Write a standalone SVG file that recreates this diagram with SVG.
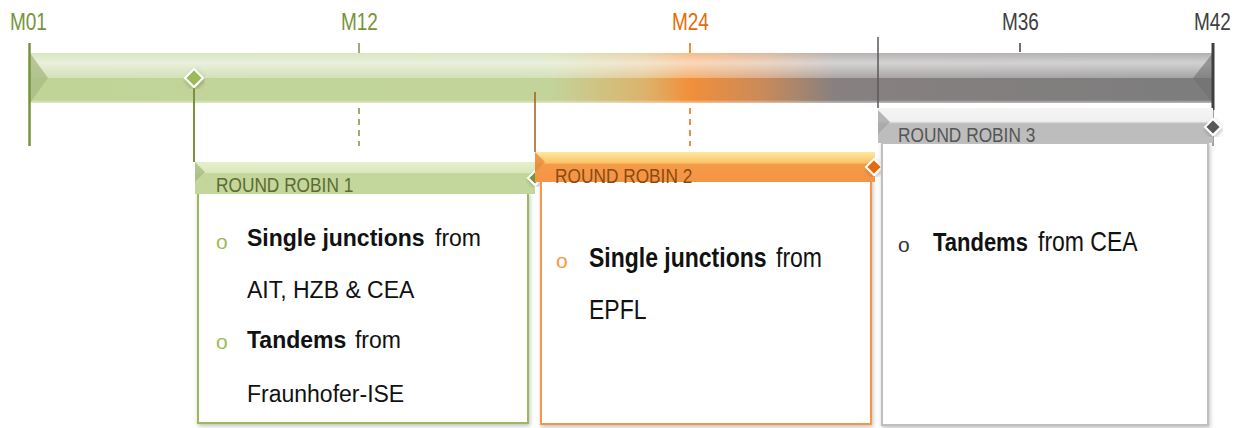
<svg xmlns="http://www.w3.org/2000/svg" width="1249" height="428" viewBox="0 0 1249 428">
<style>
text{font-family:"Liberation Sans",Arial,sans-serif}
.ms{font-size:19px}
.rr{font-size:17.3px}
.tx{fill:#111;font-size:23px}
.b{font-weight:bold}
.bul{font-size:21px}
.dia{stroke:#fff;stroke-width:2}
</style>
<defs>
<linearGradient id="mainH" gradientUnits="userSpaceOnUse" x1="30" y1="0" x2="1213" y2="0">
<stop offset="0" stop-color="#c0d498"/>
<stop offset="0.44" stop-color="#c2d49a"/>
<stop offset="0.52" stop-color="#dcb36c"/>
<stop offset="0.558" stop-color="#f28f3a"/>
<stop offset="0.62" stop-color="#c98a5a"/>
<stop offset="0.68" stop-color="#878080"/>
<stop offset="1" stop-color="#7d7d7d"/>
</linearGradient>
<linearGradient id="shine" x1="0" y1="0" x2="0" y2="1">
<stop offset="0" stop-color="#fff" stop-opacity="0.4"/>
<stop offset="0.2" stop-color="#fff" stop-opacity="0.65"/>
<stop offset="0.5" stop-color="#fff" stop-opacity="0.3"/>
<stop offset="0.5" stop-color="#fff" stop-opacity="0"/>
<stop offset="0.94" stop-color="#fff" stop-opacity="0"/>
<stop offset="1" stop-color="#fff" stop-opacity="0.5"/>
</linearGradient>
<linearGradient id="g1" x1="0" y1="0" x2="0" y2="1">
<stop offset="0" stop-color="#e6f0cf"/>
<stop offset="0.35" stop-color="#d9e7b9"/>
<stop offset="0.36" stop-color="#c3d69b"/>
<stop offset="1" stop-color="#c3d69b"/>
</linearGradient>
<linearGradient id="g2" x1="0" y1="0" x2="0" y2="1">
<stop offset="0" stop-color="#fee9a0"/>
<stop offset="0.35" stop-color="#fbc46a"/>
<stop offset="0.42" stop-color="#f59a48"/>
<stop offset="1" stop-color="#f39443"/>
</linearGradient>
<linearGradient id="g3" x1="0" y1="0" x2="0" y2="1">
<stop offset="0" stop-color="#f4f4f4"/>
<stop offset="0.38" stop-color="#f0f0f0"/>
<stop offset="0.45" stop-color="#bdbdbd"/>
<stop offset="1" stop-color="#bdbdbd"/>
</linearGradient>
<filter id="sh" x="-10%" y="-10%" width="120%" height="120%">
<feDropShadow dx="1" dy="2" stdDeviation="2" flood-color="#000" flood-opacity="0.25"/>
</filter>
</defs>

<g id="timeline">
<rect x="30" y="53" width="1183" height="50" fill="url(#mainH)"/>
<rect x="30" y="53" width="1183" height="50" fill="url(#shine)"/>
<polygon points="30,53 48,78 30,103" fill="#a9bb85" opacity="0.8"/>
<polygon points="1213,53 1193,78 1213,103" fill="#6f6f6f" opacity="0.6"/>
<line x1="29.5" y1="43" x2="29.5" y2="146" stroke="#77933c" stroke-width="2.5"/>
<line x1="1213" y1="43" x2="1213" y2="110" stroke="#3f3f3f" stroke-width="3"/>
<line x1="1213" y1="110" x2="1213" y2="146" stroke="#3f3f3f" stroke-width="1"/>
<text class="ms" x="10" y="0" transform="translate(0,30) scale(1,1.3)" fill="#77933c">M01</text>
<text class="ms" x="341" y="0" transform="translate(0,30) scale(1,1.3)" fill="#77933c">M12</text>
<text class="ms" x="672" y="0" transform="translate(0,30) scale(1,1.3)" fill="#e36c09">M24</text>
<text class="ms" x="1002" y="0" transform="translate(0,30) scale(1,1.3)" fill="#404040">M36</text>
<text class="ms" x="1194" y="0" transform="translate(0,30) scale(1,1.3)" fill="#404040">M42</text>
<line x1="359" y1="43" x2="359" y2="53" stroke="#77933c" stroke-width="1.5"/>
<line x1="359" y1="108" x2="359" y2="146" stroke="#77933c" stroke-width="1.5" stroke-dasharray="6,5"/>
<line x1="690" y1="43" x2="690" y2="53" stroke="#e36c09" stroke-width="1.5"/>
<line x1="690" y1="108" x2="690" y2="146" stroke="#e36c09" stroke-width="1.5" stroke-dasharray="6,5"/>
<line x1="1020" y1="43" x2="1020" y2="52" stroke="#404040" stroke-width="1.5"/>
</g>

<g id="connectors">
<line x1="194" y1="78" x2="194" y2="162" stroke="#77933c" stroke-width="2"/>
<line x1="535" y1="92" x2="535" y2="152" stroke="#a85a1c" stroke-width="1.5"/>
<line x1="878" y1="37" x2="878" y2="108" stroke="#595959" stroke-width="1.5"/>
</g>

<g id="milestone-start">
<polygon class="dia" points="194,69 203,78 194,87 185,78" fill="#9bbb59" filter="url(#sh)"/>
</g>

<g id="round-robin-1">
<rect x="198" y="193" width="330" height="230" fill="#fff" stroke="#9bbb59" stroke-width="2" filter="url(#sh)"/>
<rect x="195" y="162" width="340" height="32" fill="url(#g1)"/>
<polygon points="195,162 205,172 195,182" fill="#a9bb85" opacity="0.8"/>
<text class="rr" x="216" y="0" transform="translate(0,192) scale(1,1.13)" fill="#5d6b32">ROUND ROBIN 1</text>
<polygon class="dia" points="535,171 542,178 535,185 528,178" fill="#77933c" filter="url(#sh)"/>
<text class="bul" x="216" y="249" fill="#9bbb59">o</text>
<text class="tx b" x="247" y="0" transform="translate(0,246) scale(1,1.05)">Single junctions</text>
<text class="tx" x="435" y="0" transform="translate(0,246) scale(1,1.05)">from</text>
<text class="tx" x="247" y="0" transform="translate(0,298) scale(1,1.05)">AIT, HZB &amp; CEA</text>
<text class="bul" x="216" y="349" fill="#9bbb59">o</text>
<text class="tx b" x="247" y="0" transform="translate(0,348) scale(1,1.05)">Tandems</text>
<text class="tx" x="355" y="0" transform="translate(0,348) scale(1,1.05)">from</text>
<text class="tx" x="247" y="0" transform="translate(0,402) scale(1,1.05)">Fraunhofer-ISE</text>
</g>

<g id="round-robin-2">
<rect x="541" y="180" width="330" height="244" fill="#fff" stroke="#f79646" stroke-width="2" filter="url(#sh)"/>
<rect x="535" y="152" width="340" height="30" fill="url(#g2)"/>
<polygon points="535,152 545,162 535,172" fill="#e88a3c" opacity="0.8"/>
<text class="rr" x="555" y="0" transform="translate(0,183) scale(1,1.13)" fill="#8a4a12">ROUND ROBIN 2</text>
<polygon class="dia" points="874,159 882,167 874,175 866,167" fill="#e36c09" filter="url(#sh)"/>
<text class="bul" x="556" y="268" fill="#f79646">o</text>
<text class="tx b" x="589" y="0" transform="translate(0,267) scale(1,1.2)">Single junctions</text>
<text class="tx" x="776" y="0" transform="translate(0,267) scale(1,1.2)">from</text>
<text class="tx" x="589" y="0" transform="translate(0,319) scale(1,1.2)">EPFL</text>
</g>

<g id="round-robin-3">
<rect x="882" y="143" width="326" height="282" fill="#fff" stroke="#bfbfbf" stroke-width="2" filter="url(#sh)"/>
<rect x="878" y="108" width="335" height="35" fill="url(#g3)"/>
<polygon points="878,110 890,122 878,134" fill="#a6a6a6" opacity="0.8"/>
<text class="rr" x="898" y="0" transform="translate(0,142) scale(1,1.13)" fill="#555">ROUND ROBIN 3</text>
<polygon class="dia" points="1213,119 1221,127 1213,135 1205,127" fill="#595959" filter="url(#sh)"/>
<text class="bul" x="898" y="252" fill="#333">o</text>
<text class="tx b" x="933" y="0" transform="translate(0,251) scale(1,1.18)" style="font-size:22px">Tandems</text>
<text class="tx" x="1038" y="0" transform="translate(0,251) scale(1,1.18)">from CEA</text>
</g>
</svg>
